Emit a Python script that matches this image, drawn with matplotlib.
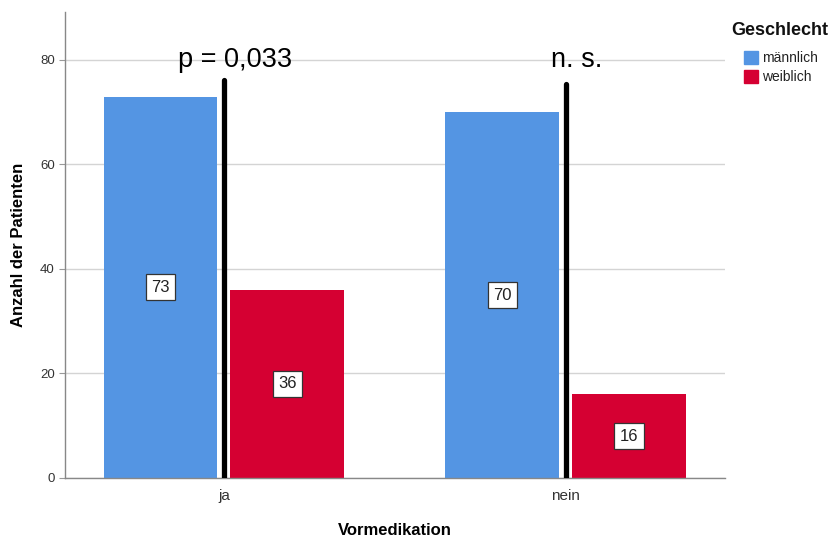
import matplotlib.pyplot as plt
import matplotlib.patches as mpatches
import numpy as np

plt.rcParams['font.family'] = ['Liberation Sans', 'DejaVu Sans']

categories = ['ja', 'nein']
maennlich = [73, 70]
weiblich = [36, 16]
sig_labels = ['p = 0,033', 'n. s.']
sig_line_top = [76.2, 75.4]
sig_text_y = 80.0

col_m = '#5495e3'
col_w = '#d50032'

fig = plt.figure(figsize=(8.34, 5.41), dpi=100)
ax = fig.add_axes([0.078, 0.1165, 0.791, 0.8615])

x = np.arange(len(categories))
w = 0.333
gap = 0.019

bars_m = ax.bar(x - w / 2 - gap, maennlich, w, color=col_m, zorder=2)
bars_w = ax.bar(x + w / 2 + gap, weiblich, w, color=col_w, zorder=2)

# Werte in der Balkenmitte
for bars in (bars_m, bars_w):
    for b in bars:
        h = b.get_height()
        ax.text(b.get_x() + b.get_width() / 2, h / 2, f'{h:.0f}',
                ha='center', va='center', fontsize=12, color='#222222', zorder=4,
                bbox=dict(boxstyle='square,pad=0.33', facecolor='white',
                          edgecolor='#333333', linewidth=0.9))

# Signifikanzlinien
for xi, top, lab in zip(x, sig_line_top, sig_labels):
    ax.plot([xi, xi], [0, top], color='black', linewidth=3.8,
            solid_capstyle='round', zorder=3)
    ax.text(xi + 0.033, sig_text_y, lab, ha='center', va='center',
            fontsize=19.5, color='black', zorder=4)

ax.set_xlim(-0.465, 1.465)
ax.set_ylim(0, 89.2)
ax.set_yticks([0, 20, 40, 60, 80])
ax.set_xticks(x)
ax.set_xticklabels(categories, fontsize=11, color='#333333')
ax.tick_params(axis='y', labelsize=9.5, labelcolor='#333333', length=4,
               color='#999999', width=0.8)
ax.tick_params(axis='x', length=0, pad=8)
ax.yaxis.grid(True, color='#d4d4d4', linewidth=1, zorder=0)
ax.set_axisbelow(True)

for s in ['top', 'right']:
    ax.spines[s].set_visible(False)
for s in ['left', 'bottom']:
    ax.spines[s].set_color('#888888')
    ax.spines[s].set_linewidth(1)

ax.set_xlabel('Vormedikation', fontsize=12, fontweight='bold', labelpad=14)
ax.set_ylabel('Anzahl der Patienten', fontsize=12, fontweight='bold', labelpad=10)

# Legende: Titel separat, Einträge eingerückt
fig.text(0.877, 0.944, 'Geschlecht', fontsize=13, fontweight='bold',
         ha='left', va='center', color='#111111')
handles = [mpatches.Patch(color=col_m, label='männlich'),
           mpatches.Patch(color=col_w, label='weiblich')]
leg = fig.legend(handles=handles, loc='upper left',
                 bbox_to_anchor=(0.881, 0.923), frameon=False, fontsize=10,
                 handlelength=0.95, handleheight=1.0, handletextpad=0.3,
                 labelspacing=0.35, borderpad=0.2)
for t in leg.get_texts():
    t.set_color('#222222')

fig.savefig('out.png', dpi=100)
